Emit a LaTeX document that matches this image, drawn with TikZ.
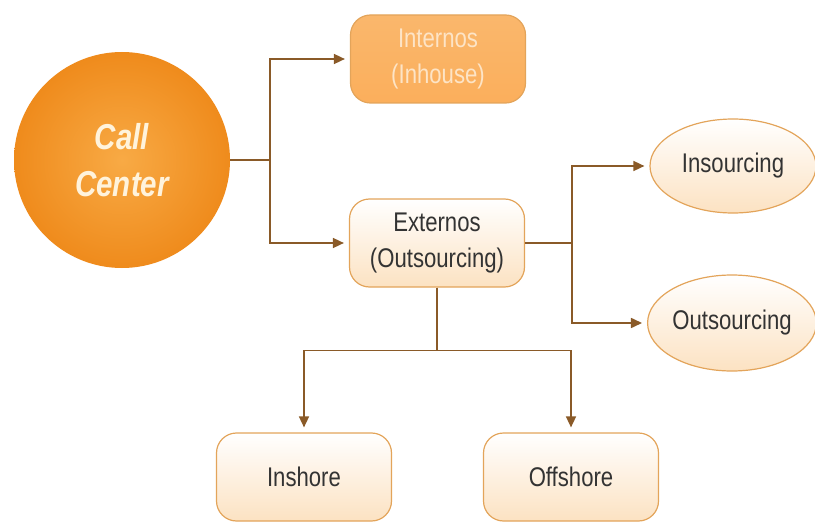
\documentclass[tikz,border=0pt]{standalone}
\usepackage{xcolor}
\usepackage{fontspec}
\setmainfont[FakeStretch=0.82]{Liberation Sans}
\usepackage{tikz}
\usetikzlibrary{shapes,arrows.meta,positioning}

\definecolor{ccorange}{HTML}{EF8B1C}
\definecolor{cclight}{HTML}{F8AA45}
\definecolor{cctext}{HTML}{FFF3DC}
\definecolor{intfill}{HTML}{FAB76C}
\definecolor{inttext}{HTML}{FDE4C6}
\definecolor{edgeorange}{HTML}{E3A45A}
\definecolor{glow}{HTML}{FCE2C2}
\definecolor{linkbrown}{HTML}{8A5A28}
\definecolor{textgray}{HTML}{333333}

\begin{document}
\begin{tikzpicture}[x=1pt, y=-1pt,
    cc/.style={circle, minimum size=216pt, inner sep=0pt, shading=radial,
        inner color=cclight, outer color=ccorange, text=cctext, align=center,
        font=\fontsize{36}{47}\selectfont\bfseries\itshape},
    box/.style={rectangle, rounded corners=20pt, draw=edgeorange, line width=1.2pt,
        top color=white, middle color=white, bottom color=glow,
        minimum width=175pt, minimum height=88pt, inner sep=0pt, align=center,
        text=textgray, font=\fontsize{27}{36}\selectfont},
    inbox/.style={box, top color=intfill, middle color=intfill, bottom color=intfill!85!orange,
        text=inttext},
    oval/.style={ellipse, draw=edgeorange, line width=1.2pt,
        top color=white, middle color=white, bottom color=glow,
        minimum width=166pt, minimum height=94pt, inner sep=0pt,
        text=textgray, font=\fontsize{27}{36}\selectfont},
    arrow/.style={-{Triangle[length=11pt,width=10pt]}, draw=linkbrown, line width=1.6pt,
        shorten >=5pt}]

    \useasboundingbox (0,0) rectangle (815,527);

    \node[cc] (cc) at (122,160) {Call\\Center};

    \node[inbox] (int) at (438,59) {Internos\\(Inhouse)};
    \node[box] (ext) at (437,243) {Externos\\(Outsourcing)};

    \node[oval] (ins) at (733,166) {Insourcing};
    \node[oval, minimum width=168pt, minimum height=96pt] (outs) at (732,323) {Outsourcing};

    \node[box] (insh) at (304,477) {Inshore};
    \node[box] (offs) at (571,477) {Offshore};

    % links
    \draw[arrow] (cc.east) -- ++(40,0) |- (int.west);
    \draw[arrow] (cc.east) -- ++(40,0) |- (ext.west);
    \draw[arrow] (ext.east) -- ++(47,0) |- (ins.west);
    \draw[arrow] (ext.east) -- ++(47,0) |- (outs.west);
    \draw[arrow] (ext.south) -- ++(0,63) -| (insh.north);
    \draw[arrow] (ext.south) -- ++(0,63) -| (offs.north);
\end{tikzpicture}
\end{document}
